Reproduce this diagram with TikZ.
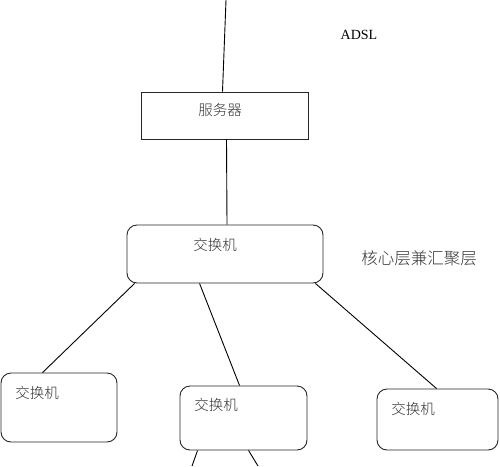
\documentclass[tikz,border=0pt]{standalone}
\usepackage{fontspec}
\setmainfont{Liberation Serif}
\newfontfamily\cjk{Noto Sans CJK SC}[UprightFont=* Light]
\usetikzlibrary{calc}
\begin{document}
\begin{tikzpicture}[x=1pt,y=-1pt,
  box/.style={draw=black!85,line width=0.9pt,inner sep=0pt,fill=none},
  rbox/.style={box,rounded corners=10pt},
  lbl/.style={inner sep=0pt,font=\cjk\fontsize{14.5}{14.5}\selectfont,text=black!80},
  wire/.style={draw=black,line width=0.9pt}]
\useasboundingbox (0,0) rectangle (500,466);
\node[box,minimum width=167pt,minimum height=47pt] (srv) at (224.5,115.5) {};
\node[lbl] (tsrv) at (220,110) {服务器};
\node[rbox,minimum width=196pt,minimum height=58pt] (core) at (225,254) {};
\node[lbl] (tcore) at (215,245) {交换机};
\node[rbox,minimum width=116pt,minimum height=69pt] (swl) at (59,407.5) {};
\node[lbl] (tswl) at (37,393) {交换机};
\node[rbox,minimum width=127pt,minimum height=64pt] (swm) at (243.5,418) {};
\node[lbl] (tswm) at (216,405) {交换机};
\node[rbox,minimum width=121pt,minimum height=61pt] (swr) at (437.5,419.5) {};
\node[lbl] (tswr) at (413,409) {交换机};
\node[inner sep=0pt,font=\fontsize{14}{14}\selectfont] (adsl) at (359,35) {ADSL};
\node[lbl,font=\cjk\fontsize{16.5}{16.5}\selectfont] (layer) at (419,258) {核心层兼汇聚层};
\coordinate (top) at (226,0);
\coordinate (bl) at (192,466);
\coordinate (br) at (258,466);
\draw[wire] (top) -- ($(srv.north)+(-2,0)$);
\draw[wire] ($(srv.south)+(2,0)$) -- ($(core.north)+(2,0)$);
\draw[wire] ($(core.south west)+(8,0)$) -- ($(swl.north west)+(42,0)$);
\draw[wire] ($(core.south west)+(73,0)$) -- ($(swm.north west)+(60,0)$);
\draw[wire] ($(core.south east)+(-8,0)$) -- ($(swr.north west)+(60,0)$);
\draw[wire] ($(swm.south west)+(18,0)$) -- (bl);
\draw[wire] ($(swm.south west)+(69,0)$) -- (br);
\end{tikzpicture}
\end{document}
